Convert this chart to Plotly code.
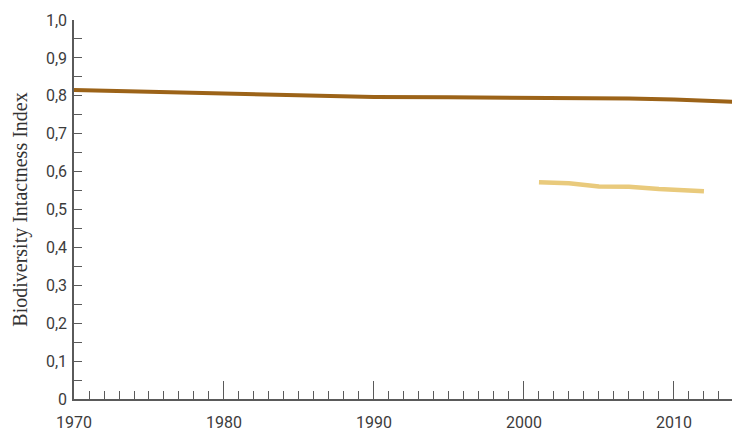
import plotly.graph_objects as go

# Biodiversity Intactness Index
years_bii = [1970, 1975, 1980, 1985, 1990, 1995, 2000, 2002, 2005, 2007, 2010, 2012, 2014]
bii_values = [0.815, 0.811, 0.807, 0.802, 0.797, 0.796, 0.795, 0.794, 0.793, 0.793, 0.790, 0.788, 0.784]

years_second = [2001, 2003, 2005, 2007, 2009, 2012]
second_values = [0.572, 0.569, 0.561, 0.560, 0.554, 0.548]

y_tickvals = [0, 0.1, 0.2, 0.3, 0.4, 0.5, 0.6, 0.7, 0.8, 0.9, 1.0]
y_ticktext = ["0", "0,1", "0,2", "0,3", "0,4", "0,5", "0,6", "0,7", "0,8", "0,9", "1,0"]
x_tickvals = [1970, 1980, 1990, 2000, 2010]

axis_color = "#5a5a5a"
label_font = dict(family="Roboto, sans-serif", size=16, color="#3c3c3c")

fig = go.Figure()

fig.add_trace(go.Scatter(
    x=years_bii, y=bii_values, mode="lines",
    line=dict(color="#9c6318", width=4),
    showlegend=False,
))
fig.add_trace(go.Scatter(
    x=years_second, y=second_values, mode="lines",
    line=dict(color="#e9ca7c", width=4.5),
    showlegend=False,
))

fig.update_layout(
    width=732, height=433,
    margin=dict(l=74, r=0, t=20, b=34),
    paper_bgcolor="white", plot_bgcolor="white",
    showlegend=False,
)

fig.update_xaxes(
    range=[1970, 2013.87],
    tickvals=x_tickvals,
    ticks="inside", ticklen=18, tickwidth=1, tickcolor=axis_color,
    minor=dict(dtick=1, tick0=1970, ticks="inside", ticklen=8, tickwidth=1, tickcolor=axis_color, showgrid=False),
    showline=True, linecolor=axis_color, linewidth=1.5,
    showgrid=False, zeroline=False, automargin=False,
    tickfont=label_font, ticklabelstandoff=8,
)

fig.update_yaxes(
    range=[0, 1.0],
    tickvals=y_tickvals, ticktext=y_ticktext,
    ticks="inside", ticklen=8, tickwidth=1, tickcolor=axis_color,
    minor=dict(dtick=0.05, tick0=0, ticks="inside", ticklen=8, tickwidth=1, tickcolor=axis_color, showgrid=False),
    showline=True, linecolor=axis_color, linewidth=1.5,
    showgrid=False, zeroline=False, automargin=False,
    tickfont=label_font, ticklabelstandoff=2,
    title=dict(text="Biodiversity Intactness Index",
               font=dict(family="Liberation Serif, Times New Roman, serif", size=20, color="#333333"),
               standoff=13),
)

# drop the default body margin so the figure fills the window exactly
fig.write_html("out.html", config={"displayModeBar": False},
               post_script="document.body.style.margin='0';")
